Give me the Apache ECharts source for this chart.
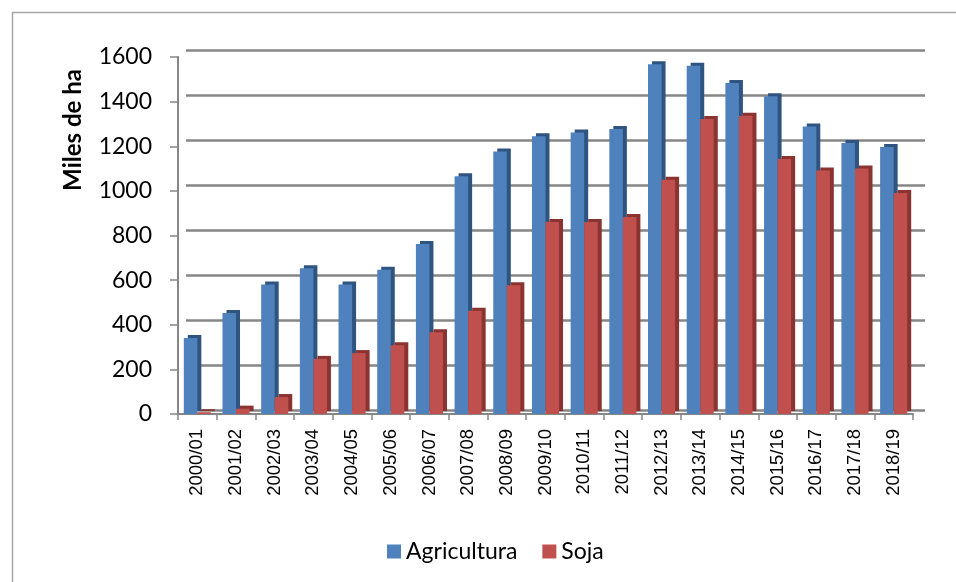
<!DOCTYPE html>
<html>
<head>
<meta charset="utf-8">
<script src="https://cdn.jsdelivr.net/npm/echarts@6/dist/echarts.min.js"></script>
<style>
  html, body { margin: 0; padding: 0; background: #fff; }
  #chart { width: 956px; height: 582px; }
</style>
</head>
<body>
<div id="chart"></div>
<script>
// campañas
const campaigns = [
  '2000/01', '2001/02', '2002/03', '2003/04', '2004/05', '2005/06', '2006/07',
  '2007/08', '2008/09', '2009/10', '2010/11', '2011/12', '2012/13', '2013/14',
  '2014/15', '2015/16', '2016/17', '2017/18', '2018/19'
]

// miles de ha
const agricultura = [341, 453, 580, 653, 580, 647, 762, 1065, 1177, 1245, 1262, 1277, 1567, 1561, 1484, 1424, 1289, 1215, 1197]
const soja = [8, 24, 76, 247, 273, 308, 366, 463, 577, 861, 861, 883, 1050, 1322, 1337, 1143, 1091, 1100, 991]

const yTicks = { min: 0, max: 1600, interval: 200 }

const chart = echarts.init(document.getElementById('chart'))

const gridColor = '#868686'

chart.setOption({
  animation: false,
  textStyle: { fontFamily: 'Lato' },
  graphic: [
    {
      type: 'rect',
      shape: { x: 12.5, y: 12.5, width: 1000, height: 1000 },
      style: { fill: 'none', stroke: '#a6a6a6', lineWidth: 1.5 },
      silent: true
    },
    {
      type: 'text',
      x: 73,
      y: 130,
      rotation: Math.PI / 2,
      style: {
        text: 'Miles de ha',
        font: 'bold 24px Lato',
        fill: '#000',
        align: 'center',
        verticalAlign: 'middle'
      }
    }
  ],
  grid: [
    // front: bars + axes
    { left: 178, right: 43, top: 57, bottom: 168 },
    // back wall: gridlines
    { left: 186, right: 31, top: 50, bottom: 172 }
  ],
  legend: {
    data: ['Agricultura', 'Soja'],
    left: 382,
    top: 535,
    itemWidth: 14,
    itemHeight: 14,
    itemGap: 25,
    icon: 'rect',
    textStyle: { fontFamily: 'Lato', fontSize: 23, color: '#000' }
  },
  xAxis: [
    {
      type: 'category',
      gridIndex: 0,
      data: campaigns,
      boundaryGap: true,
      axisLine: { show: true, lineStyle: { color: gridColor, width: 2 } },
      axisTick: { show: true, alignWithLabel: false, length: 6, lineStyle: { color: gridColor, width: 1.5 } },
      axisLabel: {
        rotate: 90,
        margin: 15,
        fontFamily: 'Liberation Sans',
        fontSize: 18.5,
        color: '#000'
      }
    },
    {
      type: 'category',
      gridIndex: 1,
      data: campaigns,
      show: false
    }
  ],
  yAxis: [
    {
      type: 'value',
      gridIndex: 0,
      position: 'left',
      min: yTicks.min,
      max: yTicks.max,
      interval: yTicks.interval,
      axisLine: { show: true, onZero: false, lineStyle: { color: gridColor, width: 2 } },
      axisTick: { show: true, inside: false, length: 8, lineStyle: { color: gridColor, width: 1.5 } },
      axisLabel: {
        margin: 26,
        fontFamily: 'Lato',
        fontSize: 23,
        color: '#000',
        formatter: (v) => String(v)
      },
      splitLine: { show: false }
    },
    {
      type: 'value',
      gridIndex: 1,
      min: yTicks.min,
      max: yTicks.max,
      interval: yTicks.interval,
      axisLine: { show: false },
      axisTick: { show: false },
      axisLabel: { show: false },
      splitLine: { show: true, lineStyle: { color: gridColor, width: 2.5 } }
    }
  ],
  series: [
    {
      name: 'Agricultura',
      type: 'bar',
      xAxisIndex: 0,
      yAxisIndex: 0,
      data: agricultura,
      barGap: '0%',
      barCategoryGap: '30%',
      itemStyle: {
        color: '#4F81BD',
        shadowColor: '#2f5480',
        shadowBlur: 0,
        shadowOffsetX: 4,
        shadowOffsetY: -3
      }
    },
    {
      name: 'Soja',
      type: 'bar',
      xAxisIndex: 0,
      yAxisIndex: 0,
      data: soja,
      itemStyle: {
        color: '#C0504D',
        shadowColor: '#8a3330',
        shadowBlur: 0,
        shadowOffsetX: 4,
        shadowOffsetY: -3
      }
    }
  ]
})
</script>
</body>
</html>
